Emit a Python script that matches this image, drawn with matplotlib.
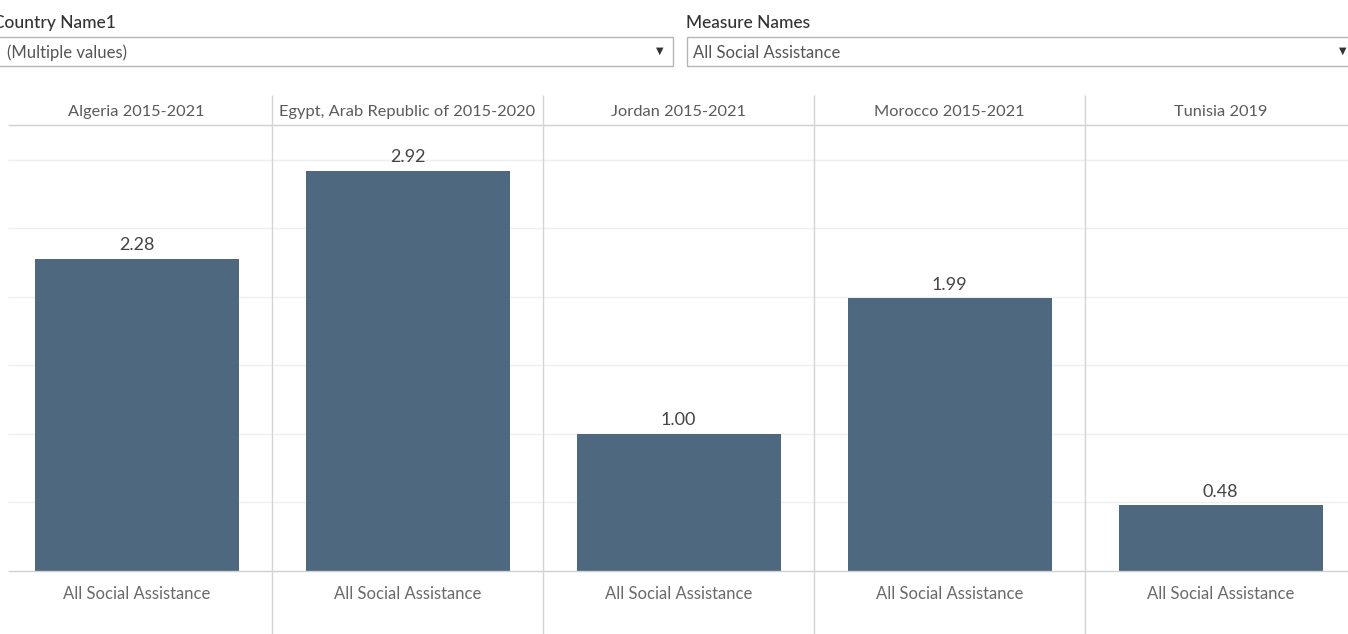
import matplotlib.pyplot as plt
from matplotlib.patches import Rectangle

# social assistance spending by country
countries = ['Algeria 2015-2021', 'Egypt, Arab Republic of 2015-2020',
             'Jordan 2015-2021', 'Morocco 2015-2021', 'Tunisia 2019']
values = [2.28, 2.92, 1.00, 1.99, 0.48]
measure = 'All Social Assistance'
gridlines = [0.5, 1.0, 1.5, 2.0, 2.5, 3.0]

plt.rcParams['font.family'] = ['Lato', 'DejaVu Sans']

W, H = 1348, 634
fig = plt.figure(figsize=(W / 100, H / 100), dpi=100)

def px(x, y):
    # pixel position -> figure fraction
    return x / W, 1 - y / H

# filter widgets at the top
fig.text(*px(-7, 23), 'Country Name1', fontsize=12.5, color='#333333', va='center', fontweight='medium')
fig.text(*px(686, 23), 'Measure Names', fontsize=12.5, color='#333333', va='center', fontweight='medium')
for x0, x1, label in [(-2, 673, '(Multiple values)'), (687, 1360, measure)]:
    fig.patches.append(Rectangle(px(x0, 66), (x1 - x0) / W, 29 / H, transform=fig.transFigure,
                                 fill=False, edgecolor='#b5b5b5', lw=1))
    fig.text(*px(x0 + 6 if x0 > 0 else 7, 53), label, fontsize=12, color='#555555', va='center')
fig.text(*px(660, 51), '▼', fontsize=7, color='#333333', va='center', ha='center', family='DejaVu Sans')
fig.text(*px(1343, 51), '▼', fontsize=7, color='#333333', va='center', ha='center', family='DejaVu Sans')

# chart area: five panes of 271 px, data from y=125 to y=571
left, right, top, base = 1, 1356, 125, 571
ax = fig.add_axes([left / W, 1 - base / H, (right - left) / W, (base - top) / H])
ymax = 3.255
ax.set_xlim(-0.5, 4.5)
ax.set_ylim(0, ymax)
ax.axis('off')

x = range(len(countries))
x_start = -0.5 + 7 / 271
ax.hlines(gridlines, x_start, 4.5, color='#efefef', lw=1, zorder=0)
ax.bar(x, values, width=204 / 271, color='#4e6880', zorder=2)
for i, v in zip(x, values):
    ax.annotate(f'{v:.2f}', (i, v), xytext=(0, 4), textcoords='offset points',
                ha='center', va='bottom', fontsize=13, color='#444444')

ax.hlines([0, ymax], x_start, 4.5, color='#d0d0d0', lw=1, clip_on=False, zorder=3)
ppu = (base - top) / ymax
ax.vlines([0.5, 1.5, 2.5, 3.5], -(H - base) / ppu, ymax + 30 / ppu, color='#d4d4d4', lw=1,
          clip_on=False, zorder=3)

for i, name in zip(x, countries):
    ax.text(i, ymax + 13 / ppu, name, ha='center', va='center', fontsize=11.8, color='#5a5a5a')
    ax.text(i, -23 / ppu, measure, ha='center', va='center', fontsize=12, color='#6a6a6a')

fig.savefig('out.png', dpi=100)
